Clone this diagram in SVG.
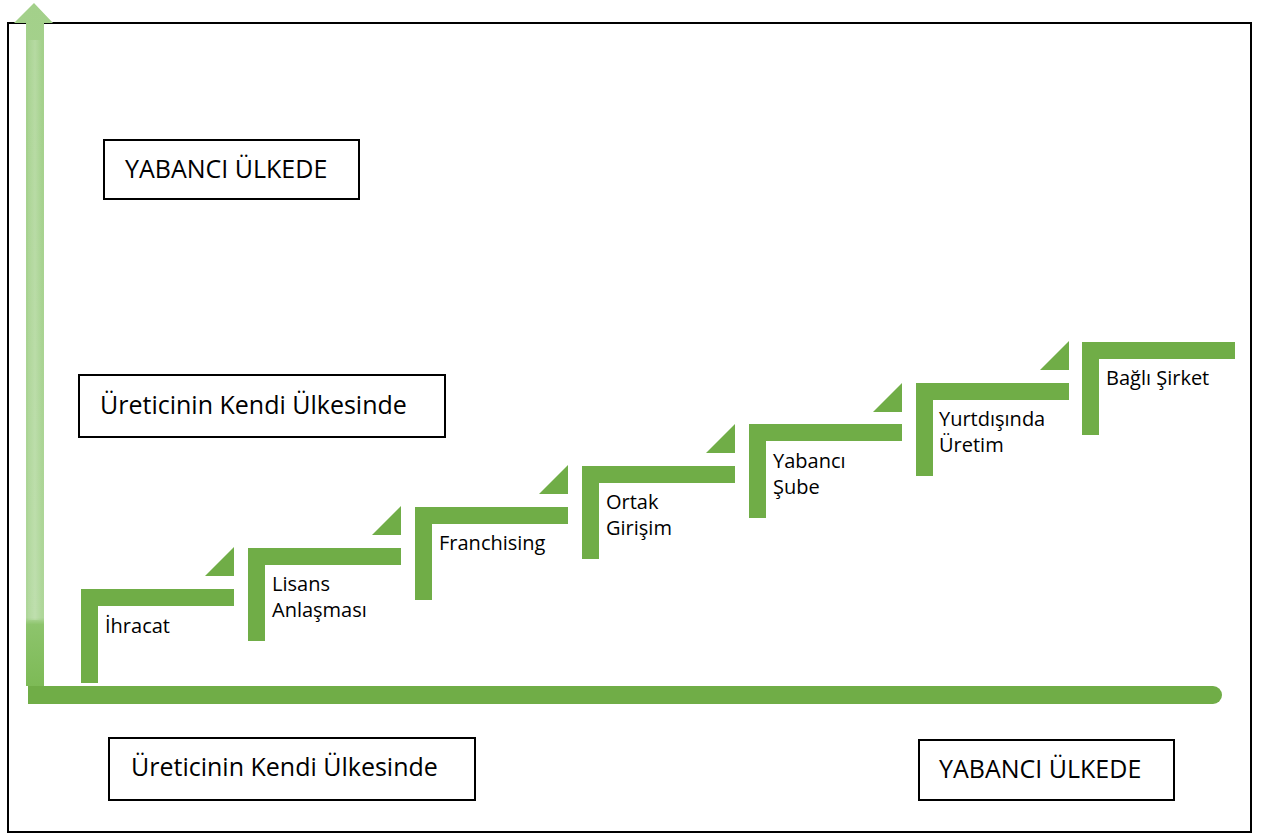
<svg xmlns="http://www.w3.org/2000/svg" width="1261" height="834" viewBox="0 0 1261 834">
  <defs>
    <style>
      .frame { fill: none; stroke: #000; stroke-width: 2; }
      .box { fill: #fff; stroke: #000; stroke-width: 2; }
      .step { fill: #70AD47; }
      .lbl { font-family: "Open Sans", "Liberation Sans", sans-serif; font-size: 20px; fill: #000; }
      .blbl { font-family: "Open Sans", "Liberation Sans", sans-serif; font-size: 25px; fill: #000; }
    </style>
    <linearGradient id="vgrad" x1="0" y1="0" x2="0" y2="1">
      <stop offset="0" stop-color="#A3D08A"/>
      <stop offset="0.9" stop-color="#AFD79A"/>
      <stop offset="0.91" stop-color="#8DC46C"/>
      <stop offset="1" stop-color="#7DBA56"/>
    </linearGradient>
    <linearGradient id="vshade" x1="0" y1="0" x2="1" y2="0">
      <stop offset="0" stop-color="#fff" stop-opacity="0.05"/>
      <stop offset="0.5" stop-color="#fff" stop-opacity="0.2"/>
      <stop offset="1" stop-color="#fff" stop-opacity="0"/>
    </linearGradient>
  </defs>

  <rect class="frame" x="8" y="23" width="1243" height="809"/>

  <g id="connectors">
    <g id="y-axis">
      <path d="M26,686 V23 H14 L34,3 L53,23 H44 V686 Z" fill="url(#vgrad)"/>
      <rect x="28" y="40" width="14" height="580" fill="url(#vshade)"/>
    </g>
    <g id="x-axis">
      <path d="M28,686 H1213 A9,9 0 0 1 1213,704 H28 Z" fill="#70AD47"/>
    </g>
  </g>

  <g id="box-yabanci-top">
    <rect class="box" x="104" y="140" width="255" height="59"/>
    <text class="blbl" x="125" y="178">YABANCI ÜLKEDE</text>
  </g>
  <g id="box-uretici-mid">
    <rect class="box" x="79" y="375" width="366" height="62"/>
    <text class="blbl" x="100" y="414">Üreticinin Kendi Ülkesinde</text>
  </g>
  <g id="box-uretici-bottom">
    <rect class="box" x="109" y="738" width="366" height="62"/>
    <text class="blbl" x="131" y="776">Üreticinin Kendi Ülkesinde</text>
  </g>
  <g id="box-yabanci-bottom">
    <rect class="box" x="919" y="740" width="255" height="60"/>
    <text class="blbl" x="939" y="778">YABANCI ÜLKEDE</text>
  </g>

  <g id="step-ihracat">
    <path class="step" d="M81,589 H234 V606 H98 V683 H81 Z"/>
    <text class="lbl" x="105" y="633">İhracat</text>
  </g>
  <g id="step-lisans">
    <path class="step" d="M205,576 L234,547 V576 Z"/>
    <path class="step" d="M248,548 H401 V565 H265 V641 H248 Z"/>
    <text class="lbl" x="272" y="591">Lisans</text>
    <text class="lbl" x="272" y="617">Anlaşması</text>
  </g>
  <g id="step-franchising">
    <path class="step" d="M372,535 L401,506 V535 Z"/>
    <path class="step" d="M415,507 H568 V524 H432 V600 H415 Z"/>
    <text class="lbl" x="439" y="550">Franchising</text>
  </g>
  <g id="step-ortak">
    <path class="step" d="M539,494 L568,465 V494 Z"/>
    <path class="step" d="M582,466 H735 V483 H599 V559 H582 Z"/>
    <text class="lbl" x="606" y="509">Ortak</text>
    <text class="lbl" x="606" y="535">Girişim</text>
  </g>
  <g id="step-sube">
    <path class="step" d="M706,453 L735,424 V453 Z"/>
    <path class="step" d="M749,424 H902 V441 H766 V518 H749 Z"/>
    <text class="lbl" x="773" y="468">Yabancı</text>
    <text class="lbl" x="773" y="494">Şube</text>
  </g>
  <g id="step-uretim">
    <path class="step" d="M873,412 L902,383 V412 Z"/>
    <path class="step" d="M916,383 H1069 V400 H933 V476 H916 Z"/>
    <text class="lbl" x="939" y="426">Yurtdışında</text>
    <text class="lbl" x="939" y="452">Üretim</text>
  </g>
  <g id="step-bagli">
    <path class="step" d="M1040,370 L1069,341 V370 Z"/>
    <path class="step" d="M1082,342 H1235 V359 H1099 V435 H1082 Z"/>
    <text class="lbl" x="1106" y="385">Bağlı Şirket</text>
  </g>
</svg>
